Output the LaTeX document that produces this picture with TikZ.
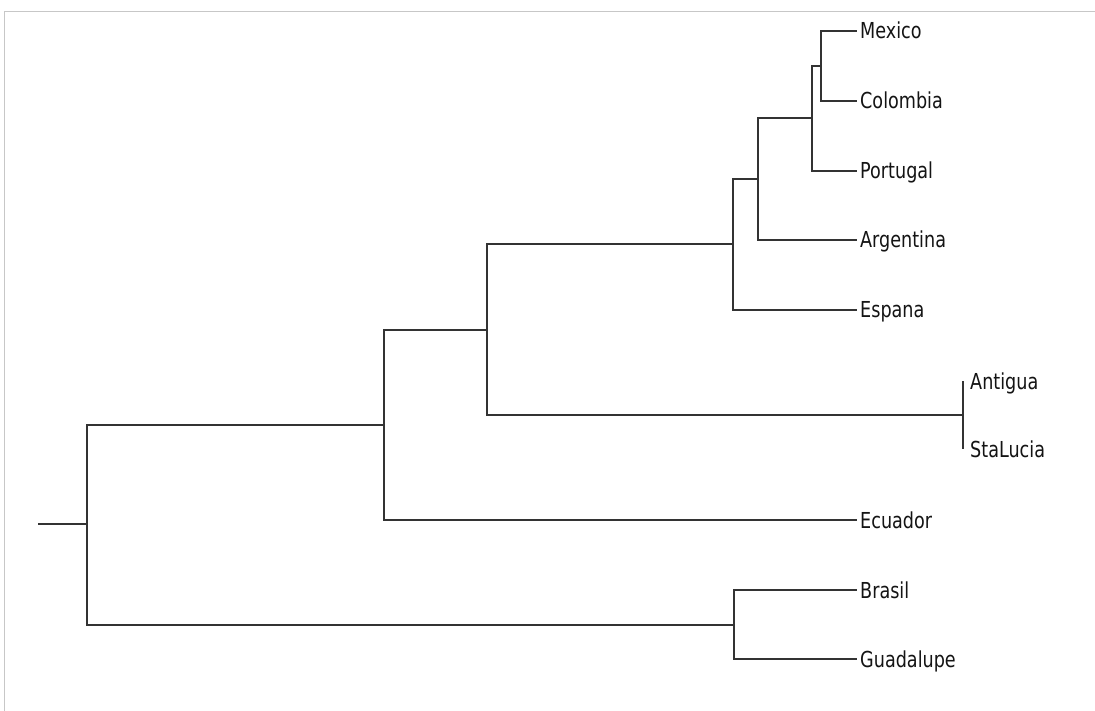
\documentclass[tikz,border=0pt]{standalone}
\usepackage{fontspec}
\setmainfont[FakeStretch=0.8]{DejaVu Sans}

\tikzstyle{leaf}=[anchor=west,inner xsep=3pt,inner ysep=0pt,text height=16pt,
text depth=0pt,font=\fontsize{22}{24}\selectfont,color=black!92]
\tikzstyle{branch}=[draw,line width=2.4pt,color=black!80]
\tikzstyle{frame}=[draw,line width=1pt,color=black!22]

\begin{document}
\begin{tikzpicture}[x=1pt,y=-1pt]
\useasboundingbox (0,0) rectangle (1095,711);
\path [frame] (4,711) |- (1095,12);

% leaves
\node [leaf] (mexico) at (857,31) {Mexico};
\node [leaf] (colombia) at (857,101) {Colombia};
\node [leaf] (portugal) at (857,171) {Portugal};
\node [leaf] (argentina) at (857,240) {Argentina};
\node [leaf] (espana) at (857,310) {Espana};
\node [leaf,inner xsep=7pt] (antigua) at (963,381) {Antigua};
\node [leaf,inner xsep=7pt] (stalucia) at (963,449) {StaLucia};
\node [leaf] (ecuador) at (857,520) {Ecuador};
\node [leaf] (brasil) at (857,590) {Brasil};
\node [leaf] (guadalupe) at (857,659) {Guadalupe};

% joins
\coordinate (mc) at (821,66);
\coordinate (mcp) at (812,118);
\coordinate (mcpa) at (758,179);
\coordinate (iber) at (733,244);
\coordinate (antsl) at (963,415);
\coordinate (upper) at (487,330);
\coordinate (main) at (384,425);
\coordinate (bg) at (734,625);
\coordinate (root) at (87,524);
\coordinate (stub) at (38,524);

\path [branch] (mc) |- (mexico.west);
\path [branch] (mc) |- (colombia.west);
\path [branch] (mcp) |- (mc);
\path [branch] (mcp) |- (portugal.west);
\path [branch] (mcpa) |- (mcp);
\path [branch] (mcpa) |- (argentina.west);
\path [branch] (iber) |- (mcpa);
\path [branch] (iber) |- (espana.west);
\path [branch] (antsl) |- (antigua.west);
\path [branch] (antsl) |- (stalucia.west);
\path [branch] (upper) |- (iber);
\path [branch] (upper) |- (antsl);
\path [branch] (main) |- (upper);
\path [branch] (main) |- (ecuador.west);
\path [branch] (bg) |- (brasil.west);
\path [branch] (bg) |- (guadalupe.west);
\path [branch] (root) |- (main);
\path [branch] (root) |- (bg);
\path [branch] (stub) -- (root);
\end{tikzpicture}
\end{document}
